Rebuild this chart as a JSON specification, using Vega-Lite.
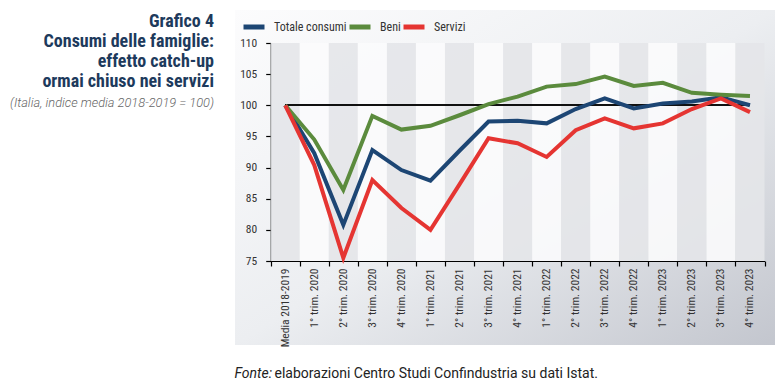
{
  "$schema": "https://vega.github.io/schema/vega-lite/v6.json",
  "width": 540,
  "height": 335,
  "autosize": "none",
  "padding": {"left": 235, "top": 10, "right": 9, "bottom": 43},
  "background": "white",
  "title": {
    "text": ["Grafico 4", "Consumi delle famiglie:", "effetto catch-up", "ormai chiuso nei servizi"],
    "subtitle": "(Italia, indice media 2018-2019 = 100)",
    "anchor": "start",
    "frame": "group",
    "orient": "top",
    "align": "right",
    "dx": -21,
    "dy": 100,
    "offset": 0,
    "font": "Roboto Condensed, Liberation Sans Narrow, Roboto",
    "fontSize": 18,
    "fontWeight": "bold",
    "color": "#1d3a5c",
    "lineHeight": 20,
    "subtitleFont": "Roboto",
    "subtitleFontSize": 12.8,
    "subtitleFontStyle": "italic",
    "subtitleFontWeight": 300,
    "subtitleColor": "#666666",
    "subtitlePadding": 6
  },
  "datasets": {
    "consumi": [
      {"periodo": "Media 2018-2019", "Totale consumi": 100.0, "Beni": 100.0, "Servizi": 100.0},
      {"periodo": "1° trim. 2020", "Totale consumi": 92.3, "Beni": 94.5, "Servizi": 90.4},
      {"periodo": "2° trim. 2020", "Totale consumi": 80.8, "Beni": 86.4, "Servizi": 75.5},
      {"periodo": "3° trim. 2020", "Totale consumi": 92.8, "Beni": 98.3, "Servizi": 88.0},
      {"periodo": "4° trim. 2020", "Totale consumi": 89.6, "Beni": 96.1, "Servizi": 83.5},
      {"periodo": "1° trim. 2021", "Totale consumi": 87.9, "Beni": 96.7, "Servizi": 80.0},
      {"periodo": "2° trim. 2021", "Totale consumi": 92.7, "Beni": 98.4, "Servizi": 87.3},
      {"periodo": "3° trim. 2021", "Totale consumi": 97.4, "Beni": 100.2, "Servizi": 94.7},
      {"periodo": "4° trim. 2021", "Totale consumi": 97.5, "Beni": 101.4, "Servizi": 93.9},
      {"periodo": "1° trim. 2022", "Totale consumi": 97.1, "Beni": 103.0, "Servizi": 91.7},
      {"periodo": "2° trim. 2022", "Totale consumi": 99.4, "Beni": 103.4, "Servizi": 96.0},
      {"periodo": "3° trim. 2022", "Totale consumi": 101.1, "Beni": 104.6, "Servizi": 97.9},
      {"periodo": "4° trim. 2022", "Totale consumi": 99.5, "Beni": 103.1, "Servizi": 96.3},
      {"periodo": "1° trim. 2023", "Totale consumi": 100.3, "Beni": 103.6, "Servizi": 97.1},
      {"periodo": "2° trim. 2023", "Totale consumi": 100.6, "Beni": 102.0, "Servizi": 99.4},
      {"periodo": "3° trim. 2023", "Totale consumi": 101.3, "Beni": 101.7, "Servizi": 101.1},
      {"periodo": "4° trim. 2023", "Totale consumi": 100.0, "Beni": 101.5, "Servizi": 98.9}
    ]
  },
  "data": {"name": "consumi"},
  "layer": [
    {
      "transform": [{"window": [{"op": "row_number", "as": "idx"}]}],
      "mark": {"type": "bar", "strokeWidth": 0},
      "encoding": {
        "x": {"field": "periodo", "type": "nominal", "sort": null, "title": "elaborazioni Centro Studi Confindustria su dati Istat."},
        "y": {"datum": 110, "type": "quantitative", "title": "Fonte:"},
        "y2": {"datum": 75},
        "fill": {
          "condition": {"test": "datum.idx % 2 === 1", "value": "#e4e5e9"},
          "value": "#fbfbfc"
        },
        "fillOpacity": {"value": 0.9}
      }
    },
    {
      "mark": {"type": "rule", "color": "#111111", "strokeWidth": 1.2},
      "encoding": {
        "x": {"datum": "Media 2018-2019", "type": "nominal", "title": "elaborazioni Centro Studi Confindustria su dati Istat."},
        "x2": {"datum": "4° trim. 2023"},
        "y": {"datum": 100, "type": "quantitative", "title": "Fonte:"}
      }
    },
    {
      "transform": [{"fold": ["Totale consumi", "Beni", "Servizi"], "as": ["serie", "valore"]}],
      "mark": {"type": "line", "strokeWidth": 4, "strokeJoin": "miter", "strokeCap": "butt"},
      "encoding": {
        "x": {
          "field": "periodo",
          "type": "nominal",
          "sort": null,
          "title": "elaborazioni Centro Studi Confindustria su dati Istat.",
          "scale": {"range": [35.7, 529.5], "paddingInner": 0, "paddingOuter": 0}
        },
        "y": {
          "field": "valore",
          "type": "quantitative",
          "title": "Fonte:",
          "scale": {"domain": [75, 110], "range": [251, 33], "nice": false, "zero": false}
        },
        "color": {
          "field": "serie",
          "type": "nominal",
          "scale": {"domain": ["Totale consumi", "Beni", "Servizi"], "range": ["#1d4674", "#5b8b3d", "#e53532"]},
          "legend": {
            "orient": "none",
            "legendX": 6,
            "legendY": 4,
            "direction": "horizontal",
            "title": null,
            "symbolType": "stroke",
            "symbolSize": 441,
            "symbolStrokeWidth": 5,
            "labelFont": "Roboto Condensed, Liberation Sans Narrow, Roboto",
            "labelFontSize": 12,
            "labelColor": "#333333",
            "labelOffset": 7,
            "columnPadding": -18
          }
        }
      }
    }
  ],
  "resolve": {"scale": {"x": "shared", "y": "shared"}},
  "config": {
    "view": {
      "stroke": null,
      "fill": {
        "gradient": "linear",
        "x1": 0, "y1": 0, "x2": 1, "y2": 1,
        "stops": [
          {"offset": 0, "color": "#fcfcfd"},
          {"offset": 0.5, "color": "#eceef1"},
          {"offset": 1, "color": "#c3c6ce"}
        ]
      }
    },
    "scale": {"bandPaddingInner": 0, "bandPaddingOuter": 0},
    "axis": {
      "grid": false,
      "domainColor": "#000000",
      "domainWidth": 1.2,
      "tickColor": "#000000",
      "tickWidth": 1.2,
      "tickSize": 5,
      "labelColor": "#333333",
      "labelFont": "Roboto Condensed, Liberation Sans Narrow, Roboto",
      "labelFontSize": 11.5,
      "titleFont": "Roboto",
      "titleFontSize": 14,
      "titleFontWeight": "normal",
      "titleColor": "#222222",
      "titleAngle": 0,
      "titleAlign": "left",
      "titleBaseline": "alphabetic"
    },
    "axisX": {
      "offset": -84,
      "labelAngle": -90,
      "labelPadding": 2,
      "tickBand": "extent",
      "titleX": 39,
      "titleY": 116
    },
    "axisY": {
      "offset": -35.7,
      "values": [75, 80, 85, 90, 95, 100, 105, 110],
      "labelPadding": 9,
      "titleX": -36.7,
      "titleY": 367,
      "titleFontStyle": "italic"
    }
  }
}
